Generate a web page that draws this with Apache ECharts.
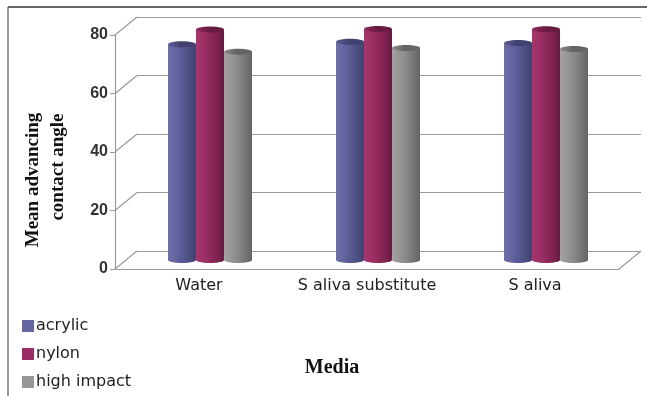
<!DOCTYPE html>
<html>
<head>
<meta charset="utf-8">
<script src="https://cdn.jsdelivr.net/npm/echarts@6/dist/echarts.min.js"></script>
<style>
  html, body { margin: 0; padding: 0; background: #fff; }
  #main { width: 647px; height: 396px; }
</style>
</head>
<body>
<div id="main"></div>
<script>
const categories = ['Water', 'S aliva substitute', 'S aliva']
const acrylic = [73.8, 74.6, 74.2]
const nylon = [78.8, 79.0, 78.9]
const highImpact = [71.2, 72.5, 72.1]
const yTicks = [0, 20, 40, 60, 80]

const chart = echarts.init(document.getElementById('main'))

// depth offset of the pseudo 3d box
const DX = 22
const DY = -18

const shades = {
  acrylic: { legend: '#6464a0', stops: ['#6e6eaa', '#5c5d97', '#414270'] },
  nylon: { legend: '#9b2c64', stops: ['#a8366c', '#942a5d', '#6a1b41'] },
  high: { legend: '#969696', stops: ['#a3a3a3', '#8d8d8d', '#646464'] }
}

const grad = (s) => new echarts.graphic.LinearGradient(0, 0, 1, 0, [
  { offset: 0, color: s[0] },
  { offset: 0.45, color: s[1] },
  { offset: 1, color: s[2] }
])

// cylinder bars, slot = 0,1,2 inside the category band
const cylinder = (slot, s) => (params, api) => {
  const cat = api.value(0)
  const top = api.coord([cat, api.value(1)])
  const base = api.coord([cat, 0])
  const w = api.size([1, 0])[0] / 6
  const x = top[0] - 1.5 * w + slot * w
  const ry = 3
  return {
    type: 'group',
    children: [
      { type: 'rect', shape: { x: x, y: top[1], width: w, height: base[1] - top[1] }, style: { fill: grad(s) } },
      { type: 'ellipse', shape: { cx: x + w / 2, cy: base[1], rx: w / 2, ry: ry }, style: { fill: grad(s) } },
      { type: 'ellipse', shape: { cx: x + w / 2, cy: top[1], rx: w / 2, ry: ry }, style: { fill: grad([s[1], s[2], s[2]]) } }
    ]
  }
}

// diagonal connectors between front axis and back wall
const diagonals = (params, api) => {
  const y = api.coord([0, api.value(0)])[1]
  const cs = params.coordSys
  const lineStyle = { stroke: '#9a9a9a', lineWidth: 1.2 }
  const kids = [{ type: 'line', shape: { x1: cs.x, y1: y, x2: cs.x + DX, y2: y + DY }, style: lineStyle }]
  if (api.value(0) === 0) {
    kids.push({ type: 'line', shape: { x1: cs.x + cs.width, y1: y, x2: cs.x + cs.width + DX, y2: y + DY }, style: lineStyle })
  }
  return { type: 'group', children: kids }
}

const option = {
  animation: false,
  legend: {
    orient: 'vertical',
    left: 17,
    top: 313,
    height: 100,
    icon: 'rect',
    itemWidth: 12,
    itemHeight: 12,
    itemGap: 12,
    textStyle: { fontFamily: 'DejaVu Sans', fontSize: 16, color: '#222', padding: [0, 0, 0, -3] },
    data: ['acrylic', 'nylon', 'high impact']
  },
  grid: [
    // front plane (axis labels, floor edge)
    { left: 115, right: 28, top: 35, bottom: 127 },
    // back wall
    { left: 137, right: 6, top: 17, bottom: 145 },
    // mid depth, where the bars stand
    { left: 126, right: 17, top: 26, bottom: 136 }
  ],
  xAxis: [
    {
      gridIndex: 0, type: 'category', data: categories,
      axisLine: { lineStyle: { color: '#9a9a9a', width: 1.2 } },
      axisTick: { show: false },
      axisLabel: { interval: 0, fontFamily: 'DejaVu Sans', fontSize: 16, color: '#222', margin: 9 }
    },
    { gridIndex: 1, type: 'category', data: categories, show: false },
    { gridIndex: 2, type: 'category', data: categories, show: false }
  ],
  yAxis: [
    {
      gridIndex: 0, type: 'value', min: 0, max: 80, interval: 20,
      axisLine: { show: true, lineStyle: { color: '#9a9a9a', width: 1.2 } },
      axisTick: { show: true, length: 5, lineStyle: { color: '#9a9a9a' } },
      axisLabel: { fontFamily: 'Liberation Sans', fontSize: 16, fontWeight: 'bold', color: '#333', margin: 7 },
      splitLine: { show: false }
    },
    {
      gridIndex: 1, type: 'value', min: 0, max: 80, interval: 20,
      axisLine: { show: false }, axisTick: { show: false }, axisLabel: { show: false },
      splitLine: { show: true, lineStyle: { color: '#9a9a9a', width: 1.2 } }
    },
    { gridIndex: 2, type: 'value', min: 0, max: 80, show: false, splitLine: { show: false } }
  ],
  graphic: [
    { type: 'line', shape: { x1: 8, y1: 7, x2: 647, y2: 7 }, style: { stroke: '#333', lineWidth: 1.5 } },
    { type: 'line', shape: { x1: 8, y1: 7, x2: 8, y2: 396 }, style: { stroke: '#777', lineWidth: 1.5 } },
    {
      type: 'text', x: 33, y: 180, rotation: Math.PI / 2,
      style: { text: 'Mean advancing', font: 'bold 19px "Liberation Serif"', fill: '#111', align: 'center', verticalAlign: 'middle' }
    },
    {
      type: 'text', x: 58, y: 167, rotation: Math.PI / 2,
      style: { text: 'contact angle', font: 'bold 19px "Liberation Serif"', fill: '#111', align: 'center', verticalAlign: 'middle' }
    },
    {
      type: 'text', x: 332, y: 368,
      style: { text: 'Media', font: 'bold 20px "Liberation Serif"', fill: '#111', align: 'center', verticalAlign: 'middle' }
    }
  ],
  series: [
    {
      type: 'custom', xAxisIndex: 0, yAxisIndex: 0, silent: true, z: 1,
      renderItem: diagonals, data: yTicks.map(v => [v])
    },
    {
      name: 'acrylic', type: 'custom', xAxisIndex: 2, yAxisIndex: 2, z: 5,
      itemStyle: { color: shades.acrylic.legend },
      renderItem: cylinder(0, shades.acrylic.stops),
      data: acrylic.map((v, i) => [i, v])
    },
    {
      name: 'nylon', type: 'custom', xAxisIndex: 2, yAxisIndex: 2, z: 5,
      itemStyle: { color: shades.nylon.legend },
      renderItem: cylinder(1, shades.nylon.stops),
      data: nylon.map((v, i) => [i, v])
    },
    {
      name: 'high impact', type: 'custom', xAxisIndex: 2, yAxisIndex: 2, z: 5,
      itemStyle: { color: shades.high.legend },
      renderItem: cylinder(2, shades.high.stops),
      data: highImpact.map((v, i) => [i, v])
    }
  ]
}

chart.setOption(option)
</script>
</body>
</html>
